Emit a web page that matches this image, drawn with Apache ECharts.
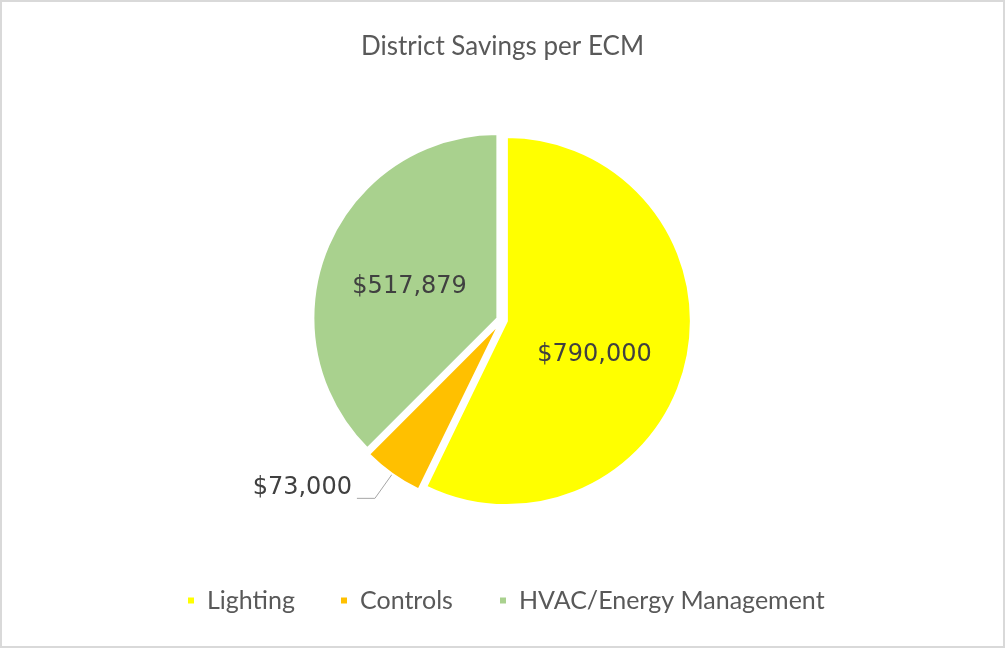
<!DOCTYPE html>
<html>
<head>
<meta charset="utf-8">
<script src="https://cdn.jsdelivr.net/npm/echarts@6/dist/echarts.min.js"></script>
<style>
  html, body { margin: 0; padding: 0; background: #fff; }
  #chart { width: 1005px; height: 648px; }
</style>
</head>
<body>
<div id="chart"></div>
<script>
// ---- data ----
const categories = ['Lighting', 'Controls', 'HVAC/Energy Management'];
const savings = [790000, 73000, 517879];
const colors = ['#FFFF00', '#FFC000', '#A9D18E'];
const titleText = 'District Savings per ECM';

const fmt = v => '$' + v.toLocaleString('en-US');

const pieData = categories.map((name, i) => {
  const item = { name: name, value: savings[i], selected: true, itemStyle: { color: colors[i] } };
  if (i === 1) {
    item.label = {
      position: 'outside',
      formatter: p => '{a|' + fmt(p.value) + '}\n{b|}',
      rich: {
        a: { fontFamily: 'DejaVu Sans', fontSize: 24, color: '#404040', lineHeight: 24, align: 'right' },
        b: { lineHeight: 22, fontSize: 10 }
      }
    };
    item.labelLine = { show: true, length: 30, length2: 18, lineStyle: { color: '#A6A6A6', width: 1 } };
  }
  return item;
});

const legendX = [186, 339, 498];

const chart = echarts.init(document.getElementById('chart'), null, { renderer: 'canvas' });
chart.setOption({
  animation: false,
  backgroundColor: '#fff',
  title: {
    text: titleText,
    left: 'center',
    top: 29,
    textStyle: { fontFamily: 'Lato', fontSize: 26, fontWeight: 'normal', color: '#595959' }
  },
  legend: categories.map((name, i) => ({
    data: [name],
    left: legendX[i],
    top: 588,
    padding: 0,
    icon: 'rect',
    itemWidth: 8,
    itemHeight: 8,
    selectedMode: false,
    textStyle: { fontFamily: 'Lato', fontSize: 25, color: '#595959', padding: [0, 0, 0, 7] }
  })),
  graphic: [{
    type: 'rect',
    shape: { x: 1, y: 1, width: 1003, height: 646 },
    style: { fill: 'none', stroke: '#D9D9D9', lineWidth: 2 },
    silent: true
  }],
  series: [{
    type: 'pie',
    center: [502, 320],
    radius: [0, 184],
    startAngle: 90,
    clockwise: true,
    selectedMode: 'multiple',
    selectedOffset: 5,
    avoidLabelOverlap: false,
    itemStyle: { borderColor: '#fff', borderWidth: 2 },
    emphasis: { disabled: true },
    label: {
      show: true,
      position: 'inside',
      formatter: p => fmt(p.value),
      fontFamily: 'DejaVu Sans',
      fontSize: 24,
      color: '#404040'
    },
    labelLine: { show: false },
    labelLayout: function (params) {
      if (params.dataIndex === 0) return { dx: -5, dy: 12 };
      if (params.dataIndex === 2) return { dx: 0, dy: 5 };
      return {};
    },
    data: pieData
  }]
});
</script>
</body>
</html>
